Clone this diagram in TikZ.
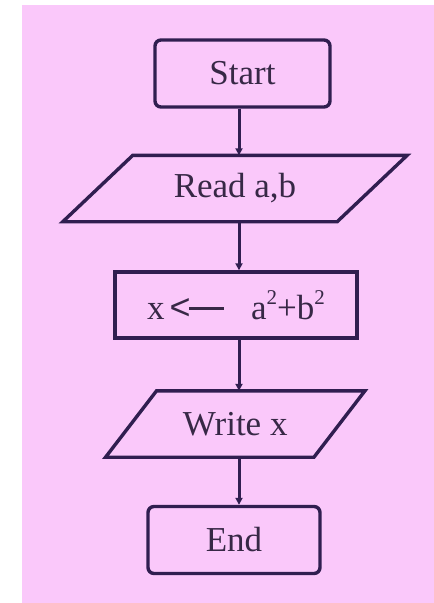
\documentclass[tikz,border=0pt]{standalone}
\usepackage{fontspec}
\setmainfont{Liberation Serif}
\usetikzlibrary{arrows.meta}
\definecolor{bgpink}{RGB}{250,200,250}
\definecolor{ink}{RGB}{48,30,80}
\definecolor{txt}{RGB}{55,40,70}
\newcommand{\supr}[1]{\raisebox{0.42em}{\fontsize{21}{21}\selectfont #1}}
\begin{document}
\begin{tikzpicture}[x=1pt,y=-1pt,
  every node/.style={font=\fontsize{35}{40}\selectfont, text=txt},
  termbox/.style={draw=ink, line width=3.4pt, rounded corners=6pt, minimum width=#1, minimum height=67pt, inner sep=0pt},
  procbox/.style={draw=ink, line width=3.4pt, minimum width=#1, minimum height=66pt, inner sep=0pt},
  iobox/.style={minimum width=#1, minimum height=66pt, inner sep=0pt},
  para/.style={draw=ink, line width=3.4pt, line join=miter},
  arr/.style={draw=ink, line width=3pt, -{Triangle[length=7pt,width=7pt]}}]
\useasboundingbox (0,0) rectangle (434,603);
\fill[white] (0,0) rectangle (434,603);
\fill[bgpink] (22,5) rectangle (434,603);
\coordinate (axis) at (239,0);
\node[termbox=175pt] (start) at (242.5,73.5) {Start};
\node[iobox=274pt] (read) at (235,188.5) {Read a,b};
\draw[para] ([xshift=35pt]read.north west) -- ([xshift=35pt]read.north east)
  -- ([xshift=-35pt]read.south east) -- ([xshift=-35pt]read.south west) -- cycle;
\node[procbox=242pt] (calc) at (236,305) {x\kern5pt{\fontsize{36}{36}\selectfont\fontspec{Liberation Sans}<}\kern-1.5pt\rule[0.27em]{1em}{2.8pt}\kern27pt a\supr{2}+b\supr{2}};
\node[iobox=208pt] (write) at (235.25,424) {Write x};
\draw[para] ([xshift=25.5pt]write.north west) -- ([xshift=25.5pt]write.north east)
  -- ([xshift=-25.5pt]write.south east) -- ([xshift=-25.5pt]write.south west) -- cycle;
\node[termbox=172pt] (end) at (234,540) {End};
\draw[arr] (start.south -| axis) -- (read.north -| axis);
\draw[arr] (read.south -| axis) -- (calc.north -| axis);
\draw[arr] (calc.south -| axis) -- (write.north -| axis);
\draw[arr] (write.south -| axis) -- (end.north -| axis);
\end{tikzpicture}
\end{document}
